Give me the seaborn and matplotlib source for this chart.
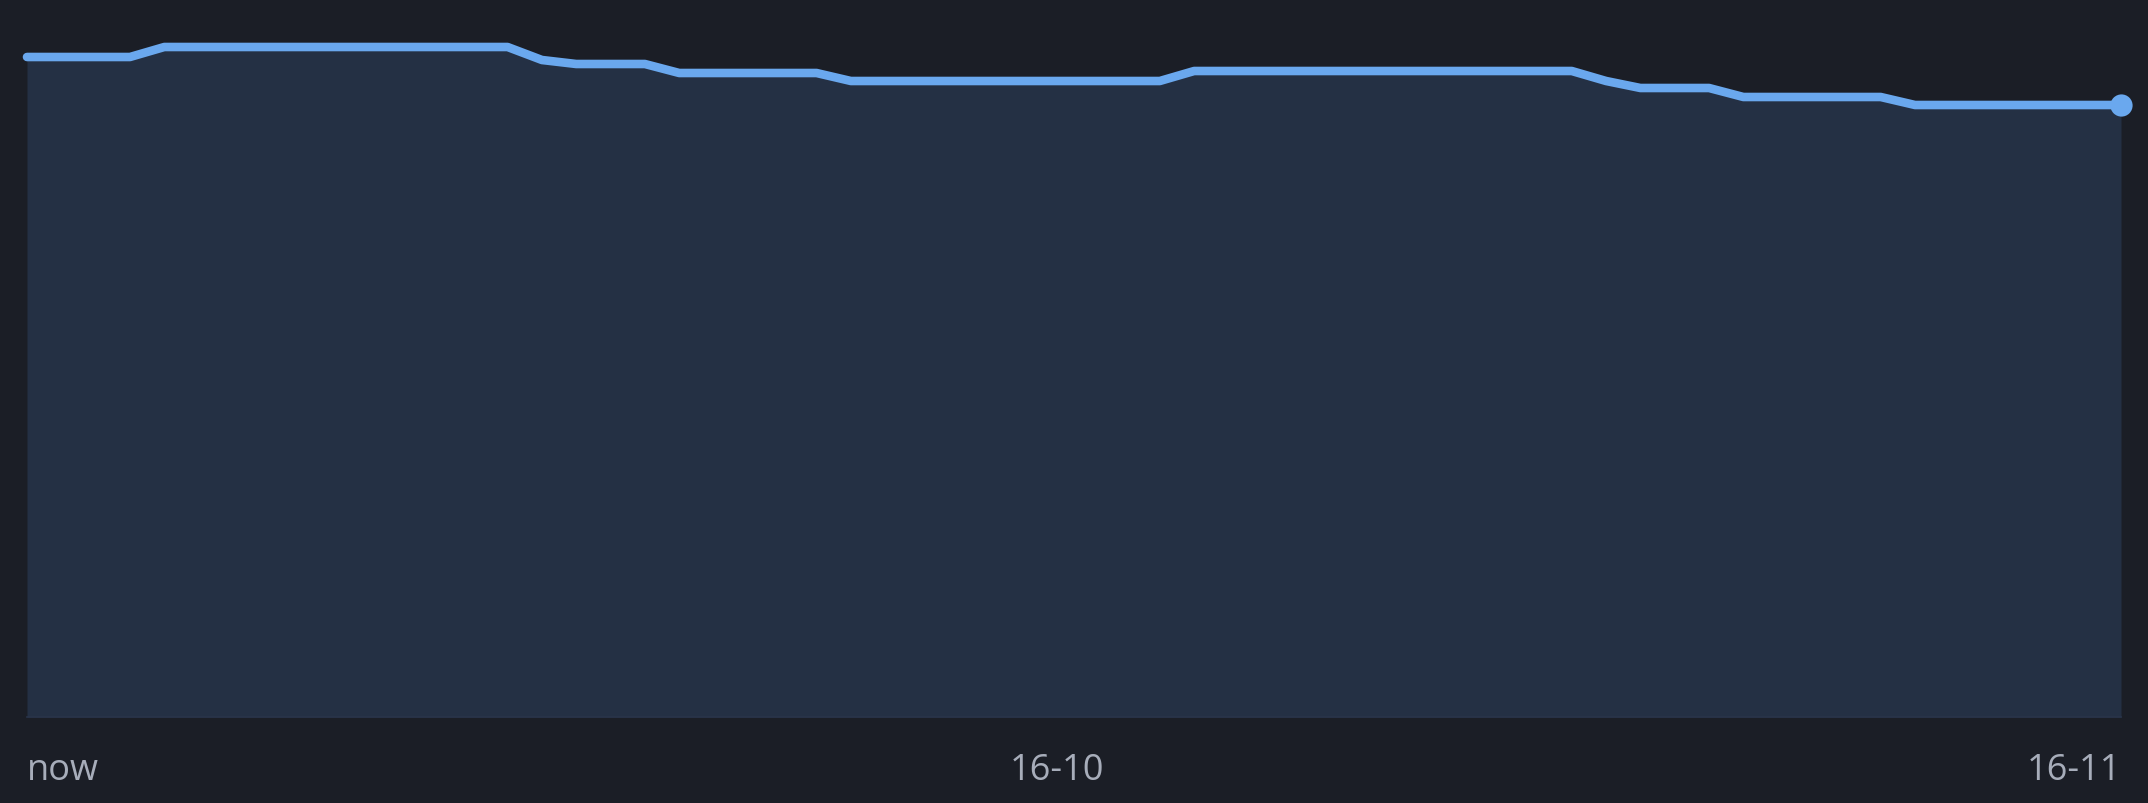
import numpy as np
import pandas as pd
import matplotlib
matplotlib.use("Agg")
import matplotlib.pyplot as plt
import seaborn as sns

# Data: one value per day (62 days), index 0 = "now"
days = np.arange(62)
values = ([660] * 4 + [670] * 11 + [657] + [653] * 3 + [644] * 5 +
          [636] * 10 + [646] * 12 + [636] + [629] * 3 + [620] * 5 + [612] * 7)
tick_pos = [0, 30, 61]
tick_labels = ["now", "16-10", "16-11"]

df = pd.DataFrame({"day": days, "value": values})

BG = "#1b1e26"
FILL = "#243044"
LINE = "#6aa8ee"
TEXT = "#a7adba"

sns.set_theme(style="dark", rc={"figure.facecolor": BG, "axes.facecolor": BG})
plt.rcParams["font.family"] = ["Open Sans", "DejaVu Sans"]

W, H, DPI = 2148, 804, 100
fig = plt.figure(figsize=(W / DPI, H / DPI), dpi=DPI)
ax = fig.add_axes([27 / W, (H - 718) / H, (2121 - 27) / W, 718 / H])
ax.set_facecolor(BG)

ax.fill_between(df["day"], df["value"], 0, color=FILL, linewidth=0, zorder=1)
sns.lineplot(data=df, x="day", y="value", ax=ax, color=LINE, linewidth=6.2,
             solid_capstyle="round", zorder=3)
for ln in ax.get_lines():
    ln.set_clip_on(False)
ax.plot(df["day"].iloc[-1], df["value"].iloc[-1], "o", color=LINE,
        markersize=16, markeredgewidth=0, zorder=4, clip_on=False)

ax.set_xlim(0, 61)
ax.set_ylim(0, 718)
ax.set_xticks([])
ax.set_yticks([])
ax.set_xlabel("")
ax.set_ylabel("")
for s in ["top", "left", "right"]:
    ax.spines[s].set_visible(False)
ax.spines["bottom"].set_color("#29344a")
ax.spines["bottom"].set_linewidth(1.2)

aligns = ["left", "center", "right"]
for pos, lab, ha in zip(tick_pos, tick_labels, aligns):
    ax.text(pos, -62 / 718, lab, transform=ax.get_xaxis_transform(),
            ha=ha, va="baseline", fontsize=26, color=TEXT)

fig.savefig("out.png", dpi=DPI, facecolor=BG)
